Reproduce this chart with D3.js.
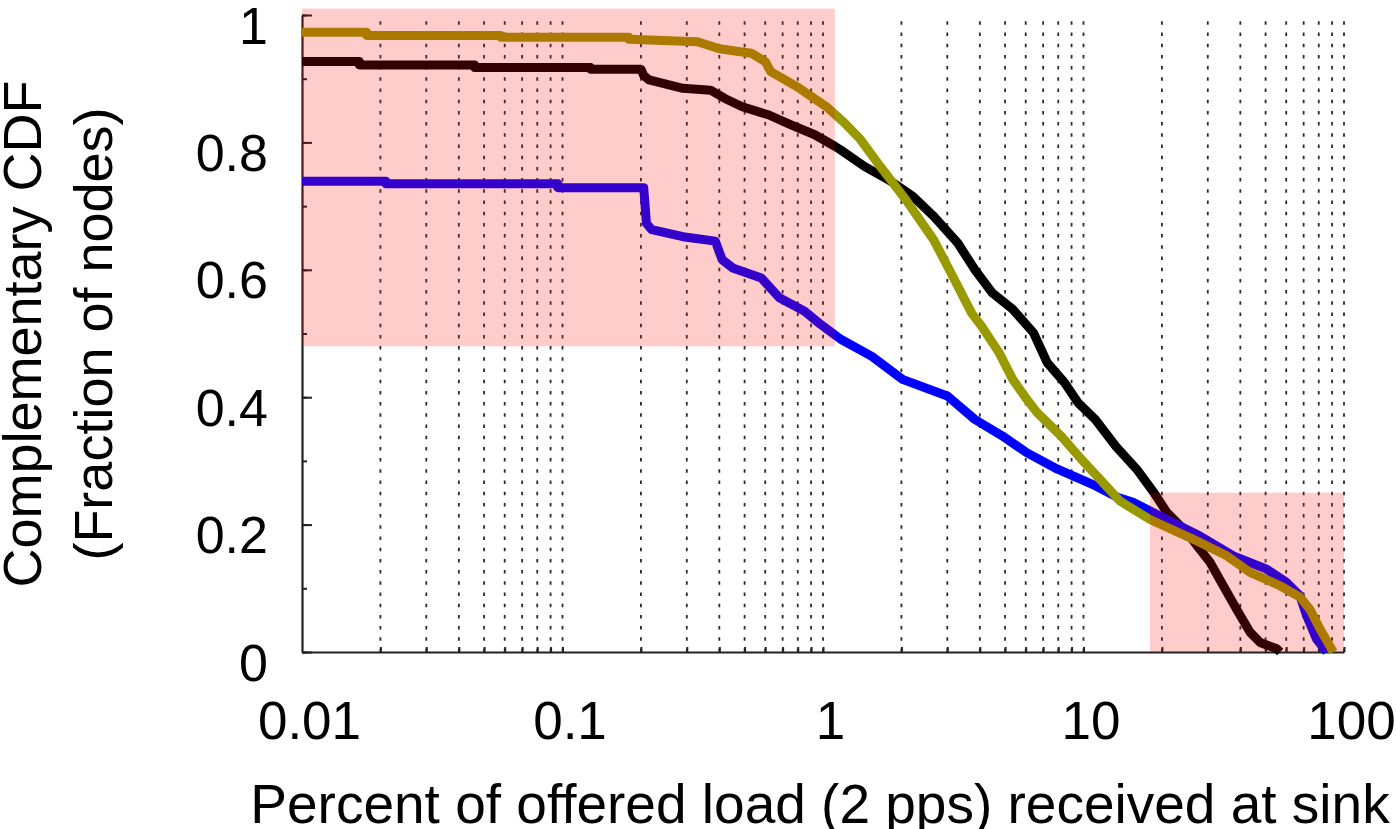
<!DOCTYPE html>
<html>
<head>
<meta charset="utf-8">
<script src="https://cdn.jsdelivr.net/npm/d3@7"></script>
<style>
  html, body { margin: 0; padding: 0; background: #fff; }
  svg { display: block; }
  text { font-family: "Liberation Sans", Arial, Helvetica, sans-serif; fill: #000; }
</style>
</head>
<body>
<svg id="chart" width="1396" height="829"></svg>
<script>
// Complementary CDF of delivered load per node, three configurations.
const xTickValues = [0.01, 0.1, 1, 10, 100];
const xTickLabels = ["0.01", "0.1", "1", "10", "100"];
const yTickValues = [0, 0.2, 0.4, 0.6, 0.8, 1];
const yTickLabels = ["0", "0.2", "0.4", "0.6", "0.8", "1"];

const xTitle = "Percent of offered load (2 pps) received at sink";
const yTitleLines = ["Complementary CDF", "(Fraction of nodes)"];

// [percent received, fraction of nodes]
const blackSeries = [
  [0.01, 0.927], [0.0166, 0.927], [0.0166, 0.9216], [0.046, 0.9216], [0.046, 0.9175],
  [0.128, 0.9175], [0.128, 0.915], [0.2, 0.915], [0.205, 0.905], [0.215, 0.898],
  [0.29, 0.885], [0.37, 0.882], [0.42, 0.869], [0.49, 0.856], [0.62, 0.843],
  [0.75, 0.828], [0.93, 0.812], [1.11, 0.794], [1.17, 0.788], [1.447, 0.762],
  [1.79, 0.741], [2.216, 0.715], [2.66, 0.684], [3.29, 0.642], [3.83, 0.600],
  [4.46, 0.564], [5.35, 0.538], [6.43, 0.501], [7.26, 0.454], [8.45, 0.423],
  [9.55, 0.391], [11.1, 0.365], [13.3, 0.323], [16.0, 0.287], [18.65, 0.250],
  [20.9, 0.219], [24.9, 0.188], [28.0, 0.161], [30.6, 0.141], [34.4, 0.104],
  [38.7, 0.067], [43.6, 0.031], [47.6, 0.015], [55.2, 0.005], [56.9, 0.0]
];

const blueSeries = [
  [0.01, 0.739], [0.021, 0.739], [0.021, 0.735], [0.096, 0.735], [0.096, 0.729],
  [0.205, 0.729], [0.21, 0.673], [0.22, 0.663], [0.29, 0.652], [0.386, 0.645],
  [0.41, 0.616], [0.45, 0.603], [0.58, 0.587], [0.68, 0.556], [0.85, 0.535],
  [0.974, 0.515], [1.11, 0.498], [1.17, 0.491], [1.54, 0.464], [2.02, 0.428],
  [3.0, 0.402], [3.83, 0.365], [4.89, 0.339], [6.05, 0.313], [7.95, 0.287],
  [11.1, 0.261], [13.5, 0.243], [15.5, 0.235], [20.9, 0.208], [28.0, 0.182],
  [37.6, 0.151], [50.5, 0.130], [60.3, 0.109], [67.8, 0.088], [71.9, 0.057],
  [78.5, 0.020], [85.8, 0.0]
];

const oliveSeries = [
  [0.01, 0.973], [0.0177, 0.973], [0.0177, 0.968], [0.058, 0.968], [0.058, 0.965],
  [0.18, 0.965], [0.18, 0.962], [0.33, 0.958], [0.40, 0.947], [0.53, 0.94],
  [0.6, 0.927], [0.63, 0.911], [0.79, 0.888], [1.03, 0.856], [1.2, 0.832],
  [1.39, 0.805], [1.66, 0.762], [2.08, 0.71], [2.66, 0.647], [3.10, 0.595],
  [3.72, 0.532], [4.07, 0.511], [4.74, 0.47], [5.35, 0.428], [6.05, 0.397],
  [6.63, 0.376], [8.20, 0.339], [9.84, 0.302], [11.57, 0.271], [13.8, 0.237],
  [18.0, 0.208], [28.0, 0.172], [35.5, 0.151], [43.6, 0.125], [56.8, 0.104],
  [67.8, 0.086], [74.0, 0.067], [80.9, 0.036], [91.0, 0.0]
];

const seriesColors = ["#000000", "#0000ff", "#999900"];

// Highlighted regions: [xMin, xMax, yMin, yMax]
const highlightRegions = [
  [0.01, 1.11, 0.48, 1.01],
  [18, 100, 0, 0.25]
];

const svg = d3.select("#chart");
const x = d3.scaleLog().domain([0.01, 100]).range([302, 1344]);
const y = d3.scaleLinear().domain([0, 1]).range([652, 15]);

// minor x positions 0.02 .. 100 (every mantissa of every decade)
const xMinor = [];
for (let e = -2; e < 2; e++) {
  for (let m = 2; m <= 10; m++) xMinor.push(+(m * Math.pow(10, e)).toPrecision(3));
}
const yMinor = d3.range(0, 11).map(i => i / 10);

// vertical dotted grid
svg.append("g")
  .selectAll("line")
  .data(xMinor)
  .join("line")
  .attr("x1", d => x(d)).attr("x2", d => x(d))
  .attr("y1", y(0)).attr("y2", y(1))
  .attr("stroke", "#2a2a2a")
  .attr("stroke-width", 1.8)
  .attr("stroke-dasharray", "3.5,7.7");

// axes
const axisColor = "#222";
const gx = svg.append("g").attr("transform", `translate(0,${y(0)})`);
gx.call(d3.axisBottom(x).tickValues(xMinor).tickSize(-5).tickSizeOuter(0).tickFormat(""));
const gxl = svg.append("g").attr("transform", `translate(0,${y(0)})`);
gxl.call(d3.axisBottom(x).tickValues(xTickValues).tickSize(0).tickSizeOuter(0)
  .tickFormat((d, i) => xTickLabels[i]));
gxl.select(".domain").remove();
gxl.selectAll("text")
  .attr("y", 0).attr("dy", 87).attr("dx", 7)
  .attr("font-size", 53).style("font-family", "'Liberation Sans', Arial, sans-serif").attr("fill", "#000");

const gy = svg.append("g").attr("transform", `translate(${x(0.01)},0)`);
gy.call(d3.axisLeft(y).tickValues(yMinor).tickSize(-5).tickSizeOuter(0).tickFormat(""));
const gyl = svg.append("g").attr("transform", `translate(${x(0.01)},0)`);
gyl.call(d3.axisLeft(y).tickValues(yTickValues).tickSize(-10).tickSizeOuter(0)
  .tickPadding(34).tickFormat((d, i) => yTickLabels[i]));
gyl.select(".domain").remove();
gyl.selectAll("text")
  .attr("dy", 28)
  .attr("font-size", 52).style("font-family", "'Liberation Sans', Arial, sans-serif").attr("fill", "#000");

[gx, gy, gyl].forEach(g => {
  g.selectAll(".domain").attr("stroke", axisColor).attr("stroke-width", 2.2);
  g.selectAll(".tick line").attr("stroke", axisColor).attr("stroke-width", 2);
});

// series
const line = d3.line().x(d => x(d[0])).y(d => y(d[1]));
const allSeries = [blackSeries, blueSeries, oliveSeries];
svg.append("g")
  .selectAll("path")
  .data(allSeries)
  .join("path")
  .attr("d", line)
  .attr("fill", "none")
  .attr("stroke", (d, i) => seriesColors[i])
  .attr("stroke-width", 9)
  .attr("stroke-linejoin", "round")
  .attr("stroke-linecap", "butt");

// translucent highlight boxes over everything
svg.append("g")
  .selectAll("rect")
  .data(highlightRegions)
  .join("rect")
  .attr("x", d => x(d[0]))
  .attr("width", d => x(d[1]) - x(d[0]))
  .attr("y", d => y(d[3]))
  .attr("height", d => y(d[2]) - y(d[3]))
  .attr("fill", "#ff0000")
  .attr("fill-opacity", 0.2);

// titles
svg.append("text")
  .attr("x", 820).attr("y", 823)
  .attr("text-anchor", "middle")
  .attr("font-size", 55)
  .text(xTitle);

svg.append("g")
  .selectAll("text")
  .data(yTitleLines)
  .join("text")
  .attr("transform", (d, i) => `translate(${i === 0 ? 41 : 112},334) rotate(-90)`)
  .attr("text-anchor", "middle")
  .attr("font-size", 54)
  .text(d => d);
</script>
</body>
</html>
